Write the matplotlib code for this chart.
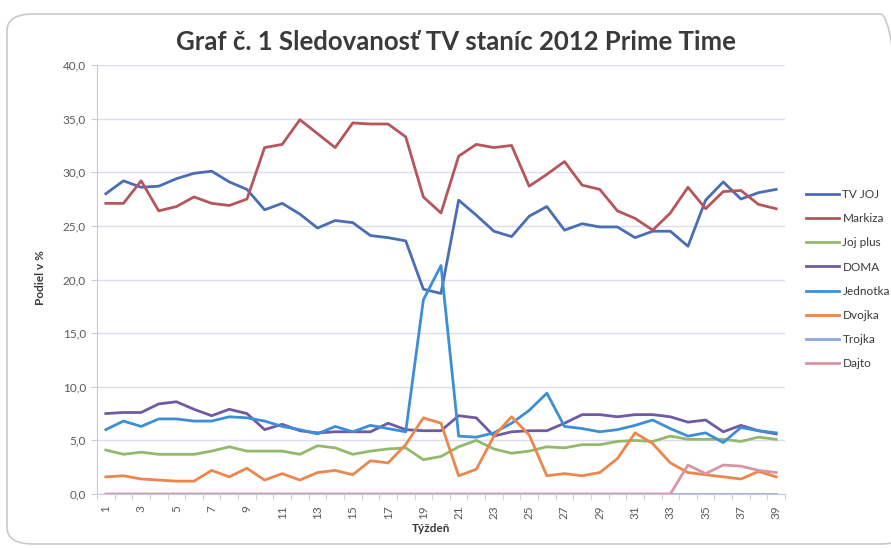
import numpy as np
import matplotlib
matplotlib.use("Agg")
import matplotlib.pyplot as plt
from matplotlib.patches import FancyBboxPatch

# týždne 1..39
tyzden = np.arange(1, 40)

tv_joj = [28.0, 29.2, 28.6, 28.7, 29.4, 29.9, 30.1, 29.1, 28.4, 26.5,
          27.1, 26.1, 24.8, 25.5, 25.3, 24.1, 23.9, 23.6, 19.1, 18.7,
          27.4, 26.0, 24.5, 24.0, 25.9, 26.8, 24.6, 25.2, 24.9, 24.9,
          23.9, 24.5, 24.5, 23.1, 27.4, 29.1, 27.5, 28.1, 28.4]
markiza = [27.1, 27.1, 29.2, 26.4, 26.8, 27.7, 27.1, 26.9, 27.5, 32.3,
           32.6, 34.9, 33.6, 32.3, 34.6, 34.5, 34.5, 33.3, 27.7, 26.2,
           31.5, 32.6, 32.3, 32.5, 28.7, 29.8, 31.0, 28.8, 28.4, 26.4,
           25.7, 24.6, 26.2, 28.6, 26.6, 28.2, 28.3, 27.0, 26.6]
joj_plus = [4.1, 3.7, 3.9, 3.7, 3.7, 3.7, 4.0, 4.4, 4.0, 4.0,
            4.0, 3.7, 4.5, 4.3, 3.7, 4.0, 4.2, 4.3, 3.2, 3.5,
            4.4, 5.0, 4.2, 3.8, 4.0, 4.4, 4.3, 4.6, 4.6, 4.9,
            5.0, 4.9, 5.4, 5.1, 5.1, 5.1, 4.9, 5.3, 5.1]
doma = [7.5, 7.6, 7.6, 8.4, 8.6, 7.9, 7.3, 7.9, 7.5, 6.0,
        6.5, 5.9, 5.7, 5.8, 5.8, 5.8, 6.6, 6.0, 5.9, 5.9,
        7.3, 7.1, 5.4, 5.8, 5.9, 5.9, 6.6, 7.4, 7.4, 7.2,
        7.4, 7.4, 7.2, 6.7, 6.9, 5.8, 6.4, 5.9, 5.6]
jednotka = [6.0, 6.8, 6.3, 7.0, 7.0, 6.8, 6.8, 7.2, 7.1, 6.8,
            6.3, 6.0, 5.6, 6.3, 5.8, 6.4, 6.1, 5.8, 18.1, 21.3,
            5.4, 5.3, 5.7, 6.6, 7.8, 9.4, 6.3, 6.1, 5.8, 6.0,
            6.4, 6.9, 6.1, 5.4, 5.7, 4.8, 6.2, 5.9, 5.7]
dvojka = [1.6, 1.7, 1.4, 1.3, 1.2, 1.2, 2.2, 1.6, 2.4, 1.3,
          1.9, 1.3, 2.0, 2.2, 1.8, 3.1, 2.9, 4.6, 7.1, 6.6,
          1.7, 2.3, 5.4, 7.2, 5.5, 1.7, 1.9, 1.7, 2.0, 3.3,
          5.7, 4.7, 2.9, 2.0, 1.8, 1.6, 1.4, 2.1, 1.6]
trojka = [0.0] * 39
dajto = [0.0] * 33 + [2.7, 1.9, 2.7, 2.6, 2.2, 2.0]

nazvy = ["TV JOJ", "Markiza", "Joj plus", "DOMA", "Jednotka", "Dvojka", "Trojka", "Dajto"]
farby = ["#4a6db5", "#b7555d", "#94b96a", "#6f5aa6", "#3c8fd6", "#ec874c", "#8fa9de", "#d994a6"]

plt.rcParams['font.family'] = ['Lato', 'DejaVu Sans']

fig = plt.figure(figsize=(8.91, 5.48), dpi=100)
fig.patch.set_facecolor("white")

# ramček grafu
ram = FancyBboxPatch((7 / 891, 1 - 544 / 548), 900 / 891, 530 / 548,
                     boxstyle="round,pad=0,rounding_size=0.03",
                     transform=fig.transFigure, facecolor="none",
                     edgecolor="#c9c9c9", linewidth=1.2, zorder=-1)
fig.patches.append(ram)

ax = fig.add_axes([97 / 891, 1 - 494 / 548, 688 / 891, 429 / 548])
ax.set_facecolor("none")

for serie, nazov, farba in zip([tv_joj, markiza, joj_plus, doma, jednotka, dvojka, trojka, dajto], nazvy, farby):
    ax.plot(tyzden, serie, color=farba, lw=2.0, label=nazov, solid_joinstyle="round")

ax.set_xlim(0.5, 39.5)
ax.set_ylim(0, 40)
ax.set_yticks(np.arange(0, 41, 5))
ax.set_yticklabels([("%.1f" % v).replace(".", ",") for v in np.arange(0, 41, 5)],
                   fontsize=8.5, color="#595959")
ax.set_xticks(np.arange(1, 40, 2))
ax.set_xticklabels([str(v) for v in range(1, 40, 2)], rotation=90, fontsize=8.5, color="#595959")
ax.set_xticks(np.arange(0.5, 40, 1), minor=True)
ax.tick_params(axis="x", which="major", length=0, pad=8)
ax.tick_params(axis="x", which="minor", length=4, color="#c8c8dc")
ax.tick_params(axis="y", length=4, color="#c8c8dc", pad=4)

ax.grid(axis="y", color="#dcdcee", lw=1)
ax.set_axisbelow(True)
for s in ["top", "right"]:
    ax.spines[s].set_visible(False)
ax.spines["left"].set_color("#c8c8dc")
ax.spines["bottom"].set_color("#c8c8dc")

fig.text(456 / 891, 1 - 42 / 548, "Graf č. 1 Sledovanosť TV staníc 2012 Prime Time",
         ha="center", va="center", fontsize=18.5, fontweight="bold", color="#3a3a3a")
fig.text(40 / 891, 1 - 278 / 548, "Podiel v %", rotation=90, ha="center", va="center",
         fontsize=8.5, fontweight="bold", color="#3a3a3a")
fig.text(431 / 891, 1 - 528 / 548, "Týždeň", ha="center", va="center",
         fontsize=8.5, fontweight="bold", color="#3a3a3a")

leg = fig.legend(loc="upper left", bbox_to_anchor=(800 / 891, 1 - 183 / 548),
                 frameon=False, fontsize=8.5, handlelength=2.8, handletextpad=0.3,
                 labelspacing=1.12, borderpad=0)
for t in leg.get_texts():
    t.set_color("#3a3a3a")

fig.savefig("out.png", dpi=100)
